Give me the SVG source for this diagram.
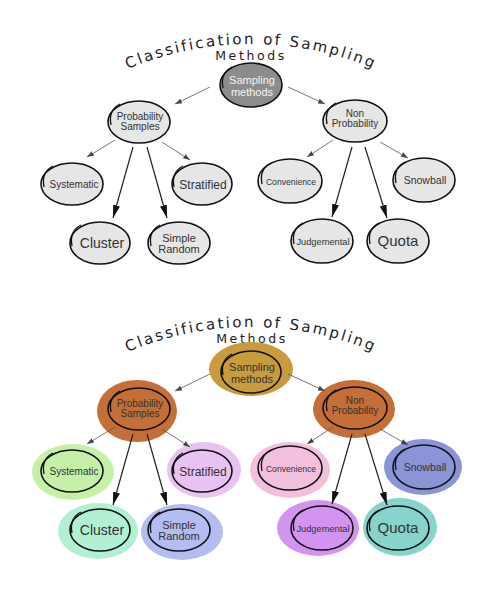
<svg xmlns="http://www.w3.org/2000/svg" xmlns:xlink="http://www.w3.org/1999/xlink" width="496" height="600" viewBox="0 0 496 600">
<defs>
<style>
.t{font-family:"Liberation Sans",Arial,sans-serif;fill:#333;text-anchor:middle}
.w{fill:#f4f4f4}
.title{font-family:"DejaVu Sans",sans-serif;font-size:15px;fill:#222;letter-spacing:2.3px}
.meth{font-family:"DejaVu Sans",sans-serif;font-size:12.5px;fill:#222;text-anchor:middle;letter-spacing:2.6px}
.ring{fill:#e6e6e6;stroke:#111;stroke-width:1.6}
.ringc{fill:none;stroke:#111;stroke-width:1.6}
.hook{fill:none;stroke:#111;stroke-width:1.3}
.thin{stroke:#555;stroke-width:0.8;fill:none}
.thick{stroke:#222;stroke-width:1.2;fill:none}
</style>
<marker id="ah" markerUnits="userSpaceOnUse" markerWidth="8" markerHeight="6" refX="7" refY="3" orient="auto"><path d="M0,0.5 L7,3 L0,5.5 z" fill="#444"/></marker>
<marker id="ahb" markerUnits="userSpaceOnUse" markerWidth="14" markerHeight="8" refX="13" refY="4" orient="auto"><path d="M0,0.5 L13,4 L0,7.5 z" fill="#111"/></marker>
<path id="hk" d="M-19,-18 Q-31,-12 -28,3"/>
<path id="arc1" d="M100,82.3 A317,317 0 0 1 402,82.3"/>
<path id="arc2" d="M100,365.3 A317,317 0 0 1 402,365.3"/>
</defs>

<!-- ===== Top (greyscale) diagram ===== -->
<text class="title"><textPath xlink:href="#arc1" href="#arc1" startOffset="50%" text-anchor="middle">Classification of Sampling</textPath></text>
<text class="meth" x="251" y="60">Methods</text>

<g id="connectors-top">
<line class="thin" x1="210" y1="87" x2="175" y2="104" marker-end="url(#ah)"/>
<line class="thin" x1="288" y1="87" x2="325" y2="104" marker-end="url(#ah)"/>
<line class="thin" x1="115" y1="140" x2="87" y2="157" marker-end="url(#ah)"/>
<line class="thin" x1="162" y1="142" x2="190" y2="160" marker-end="url(#ah)"/>
<line class="thick" x1="133" y1="147" x2="113" y2="218" marker-end="url(#ahb)"/>
<line class="thick" x1="147" y1="147" x2="167" y2="218" marker-end="url(#ahb)"/>
<line class="thin" x1="333" y1="140" x2="307" y2="157" marker-end="url(#ah)"/>
<line class="thin" x1="380" y1="142" x2="408" y2="158" marker-end="url(#ah)"/>
<line class="thick" x1="352" y1="147" x2="332" y2="217" marker-end="url(#ahb)"/>
<line class="thick" x1="365" y1="147" x2="387" y2="218" marker-end="url(#ahb)"/>
</g>

<g id="t-sampling">
<g transform="translate(251,85)"><ellipse class="ring" rx="31" ry="22" style="fill:#8c8c8c"/><use href="#hk" xlink:href="#hk" class="hook"/></g>
<text class="t w" font-size="11" x="252" y="84">Sampling</text>
<text class="t w" font-size="11" x="252" y="96">methods</text>
</g>
<g id="t-probability">
<g transform="translate(139,122)"><ellipse class="ring" rx="31" ry="21"/><use href="#hk" xlink:href="#hk" class="hook"/></g>
<text class="t" font-size="10" x="140" y="120">Probability</text>
<text class="t" font-size="10" x="140" y="130">Samples</text>
</g>
<g id="t-nonprob">
<g transform="translate(355,121)"><ellipse class="ring" rx="32" ry="21"/><use href="#hk" xlink:href="#hk" class="hook"/></g>
<text class="t" font-size="10" x="355" y="117">Non</text>
<text class="t" font-size="10" x="355" y="127">Probability</text>
</g>
<g id="t-systematic">
<g transform="translate(72,184)"><ellipse class="ring" rx="31" ry="21"/><use href="#hk" xlink:href="#hk" class="hook"/></g>
<text class="t" font-size="10" x="74" y="188">Systematic</text>
</g>
<g id="t-stratified">
<g transform="translate(202,184)"><ellipse class="ring" rx="30" ry="21"/><use href="#hk" xlink:href="#hk" class="hook"/></g>
<text class="t" font-size="12" x="203" y="189">Stratified</text>
</g>
<g id="t-cluster">
<g transform="translate(100,243)"><ellipse class="ring" rx="30" ry="21"/><use href="#hk" xlink:href="#hk" class="hook"/></g>
<text class="t" font-size="14" x="102" y="248">Cluster</text>
</g>
<g id="t-simplerandom">
<g transform="translate(179,243)"><ellipse class="ring" rx="31" ry="21"/><use href="#hk" xlink:href="#hk" class="hook"/></g>
<text class="t" font-size="11" x="179" y="242">Simple</text>
<text class="t" font-size="11" x="179" y="253">Random</text>
</g>
<g id="t-convenience">
<g transform="translate(290,181)"><ellipse class="ring" rx="32" ry="22"/><use href="#hk" xlink:href="#hk" class="hook"/></g>
<text class="t" font-size="8.6" x="291" y="185">Convenience</text>
</g>
<g id="t-snowball">
<g transform="translate(424,180)"><ellipse class="ring" rx="31" ry="22"/><use href="#hk" xlink:href="#hk" class="hook"/></g>
<text class="t" font-size="10.5" x="425" y="184">Snowball</text>
</g>
<g id="t-judgemental">
<g transform="translate(322,241)"><ellipse class="ring" rx="31" ry="22"/><use href="#hk" xlink:href="#hk" class="hook"/></g>
<text class="t" font-size="9.3" x="323" y="245">Judgemental</text>
</g>
<g id="t-quota">
<g transform="translate(398,241)"><ellipse class="ring" rx="31" ry="22"/><use href="#hk" xlink:href="#hk" class="hook"/></g>
<text class="t" font-size="15" x="398" y="246">Quota</text>
</g>

<!-- ===== Bottom (coloured) diagram ===== -->
<text class="title"><textPath xlink:href="#arc2" href="#arc2" startOffset="50%" text-anchor="middle">Classification of Sampling</textPath></text>
<text class="meth" x="252" y="343">Methods</text>

<g transform="translate(0,287)">
<g id="b-sampling">
<ellipse cx="251" cy="82" rx="42" ry="27" fill="#c89b3c"/>
<g transform="translate(251,85)"><ellipse class="ringc" rx="30" ry="21"/><use href="#hk" xlink:href="#hk" class="hook"/></g>
<text class="t" font-size="11" x="252" y="84">Sampling</text>
<text class="t" font-size="11" x="252" y="96">methods</text>
</g>
<g id="b-probability">
<ellipse cx="137" cy="124" rx="40" ry="31" fill="#c46e38"/>
<g transform="translate(139,122)"><ellipse class="ringc" rx="31" ry="21"/><use href="#hk" xlink:href="#hk" class="hook"/></g>
<text class="t" font-size="10" x="140" y="120">Probability</text>
<text class="t" font-size="10" x="140" y="130">Samples</text>
</g>
<g id="b-nonprob">
<ellipse cx="354" cy="122" rx="41" ry="29" fill="#c46e38"/>
<g transform="translate(355,121)"><ellipse class="ringc" rx="32" ry="21"/><use href="#hk" xlink:href="#hk" class="hook"/></g>
<text class="t" font-size="10" x="355" y="117">Non</text>
<text class="t" font-size="10" x="355" y="127">Probability</text>
</g>
<g id="b-systematic">
<ellipse cx="73" cy="185" rx="41" ry="28" fill="#c6f0a8"/>
<g transform="translate(72,184)"><ellipse class="ringc" rx="31" ry="21"/><use href="#hk" xlink:href="#hk" class="hook"/></g>
<text class="t" font-size="10" x="74" y="188">Systematic</text>
</g>
<g id="b-stratified">
<ellipse cx="204" cy="183" rx="37" ry="28" fill="#e8c2f0"/>
<g transform="translate(202,184)"><ellipse class="ringc" rx="30" ry="21"/><use href="#hk" xlink:href="#hk" class="hook"/></g>
<text class="t" font-size="12" x="203" y="189">Stratified</text>
</g>
<g id="b-cluster">
<ellipse cx="98" cy="244" rx="40" ry="28" fill="#b2f0d4"/>
<g transform="translate(100,243)"><ellipse class="ringc" rx="30" ry="21"/><use href="#hk" xlink:href="#hk" class="hook"/></g>
<text class="t" font-size="14" x="102" y="248">Cluster</text>
</g>
<g id="b-simplerandom">
<ellipse cx="182" cy="245" rx="41" ry="28" fill="#b4bcf2"/>
<g transform="translate(179,243)"><ellipse class="ringc" rx="31" ry="21"/><use href="#hk" xlink:href="#hk" class="hook"/></g>
<text class="t" font-size="11" x="179" y="242">Simple</text>
<text class="t" font-size="11" x="179" y="253">Random</text>
</g>
<g id="b-convenience">
<ellipse cx="290" cy="183" rx="40" ry="28" fill="#f2c0dc"/>
<g transform="translate(290,181)"><ellipse class="ringc" rx="32" ry="22"/><use href="#hk" xlink:href="#hk" class="hook"/></g>
<text class="t" font-size="8.6" x="291" y="185">Convenience</text>
</g>
<g id="b-snowball">
<ellipse cx="423" cy="180" rx="39" ry="28" fill="#8a94d6"/>
<g transform="translate(424,180)"><ellipse class="ringc" rx="31" ry="22"/><use href="#hk" xlink:href="#hk" class="hook"/></g>
<text class="t" font-size="10.5" x="425" y="184">Snowball</text>
</g>
<g id="b-judgemental">
<ellipse cx="318" cy="241" rx="41" ry="28" fill="#d394f0"/>
<g transform="translate(322,241)"><ellipse class="ringc" rx="31" ry="22"/><use href="#hk" xlink:href="#hk" class="hook"/></g>
<text class="t" font-size="9.3" x="323" y="245">Judgemental</text>
</g>
<g id="b-quota">
<ellipse cx="400" cy="240" rx="37" ry="29" fill="#86d4cc"/>
<g transform="translate(398,241)"><ellipse class="ringc" rx="31" ry="22"/><use href="#hk" xlink:href="#hk" class="hook"/></g>
<text class="t" font-size="15" x="398" y="246">Quota</text>
</g>

<g id="connectors-bottom">
<line class="thin" x1="210" y1="87" x2="175" y2="104" marker-end="url(#ah)"/>
<line class="thin" x1="288" y1="87" x2="325" y2="104" marker-end="url(#ah)"/>
<line class="thin" x1="115" y1="140" x2="87" y2="157" marker-end="url(#ah)"/>
<line class="thin" x1="162" y1="142" x2="190" y2="160" marker-end="url(#ah)"/>
<line class="thick" x1="133" y1="147" x2="113" y2="218" marker-end="url(#ahb)"/>
<line class="thick" x1="147" y1="147" x2="167" y2="218" marker-end="url(#ahb)"/>
<line class="thin" x1="333" y1="140" x2="307" y2="157" marker-end="url(#ah)"/>
<line class="thin" x1="380" y1="142" x2="408" y2="158" marker-end="url(#ah)"/>
<line class="thick" x1="352" y1="147" x2="332" y2="217" marker-end="url(#ahb)"/>
<line class="thick" x1="365" y1="147" x2="387" y2="218" marker-end="url(#ahb)"/>
</g>
</g>
</svg>
